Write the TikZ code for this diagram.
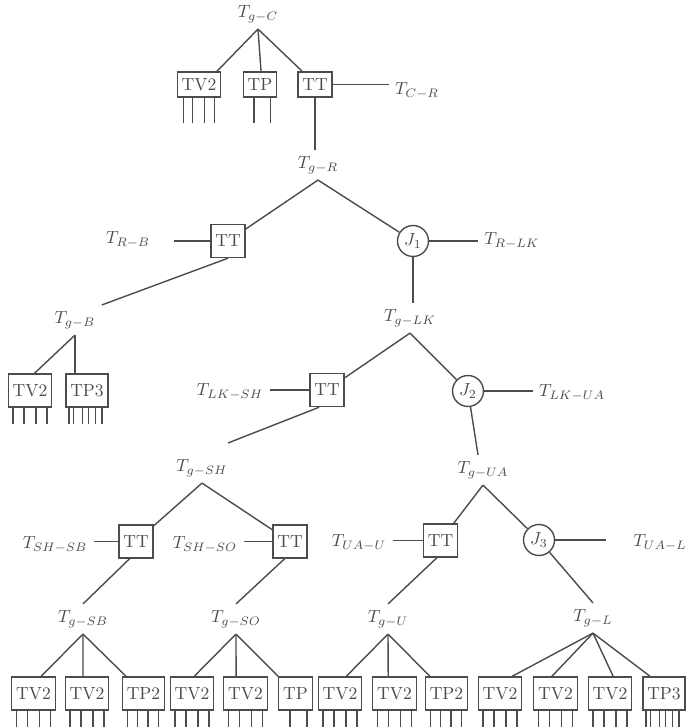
\documentclass[tikz,border=0pt]{standalone}
\usepackage{amsmath}
\usepackage{tikz}
\usetikzlibrary{calc}
\tikzset{unit/.style={draw,rectangle,minimum height=0.66cm,inner xsep=2.5pt,inner ysep=1pt},
  topunit/.style={unit,minimum height=0.5cm},
  junc/.style={draw,circle,inner sep=0pt,minimum size=0.62cm}}
% pins under a unit: node, fractions along the bottom, length
\newcommand{\legs}[3]{\foreach \f in {#2} \draw ($(#1.south west)!\f!(#1.south east)$) -- ++(0,#3);}

\begin{document}
\begin{tikzpicture}[x=0.02cm,y=-0.02cm,line width=0.8pt,color=black!70]
        \useasboundingbox (0,0) rectangle (689,727);
        % labels
        \node (gC) at (258,14) {$T_{g-C}$};
        \node (CR) at (417,91) {$T_{C-R}$};
        \node (gR) at (318,165) {$T_{g-R}$};
        \node (RB) at (128,240) {$T_{R-B}$};
        \node (RLK) at (512,241) {$T_{R-LK}$};
        \node (gB) at (75,320) {$T_{g-B}$};
        \node (gLK) at (410,318) {$T_{g-LK}$};
        \node (LKSH) at (230,392) {$T_{LK-SH}$};
        \node (LKUA) at (572,393) {$T_{LK-UA}$};
        \node (gSH) at (202,468) {$T_{g-SH}$};
        \node (gUA) at (483,470) {$T_{g-UA}$};
        \node (SHSB) at (55,545) {$T_{SH-SB}$};
        \node (SHSO) at (205,545) {$T_{SH-SO}$};
        \node (UAU) at (359,543) {$T_{UA-U}$};
        \node (UAL) at (660,543) {$T_{UA-L}$};
        \node (gSB) at (83,619) {$T_{g-SB}$};
        \node (gSO) at (236,619) {$T_{g-SO}$};
        \node (gU) at (388,619) {$T_{g-U}$};
        \node (gL) at (593,618) {$T_{g-L}$};
        % units and joints
        \node[topunit] (cTV) at (199,84.5) {TV2};
        \node[topunit] (cTP) at (260,84.5) {TP};
        \node[topunit] (cTT) at (315,84.5) {TT};
        \node[unit] (tt1) at (228,241) {TT};
        \node[junc] (J1) at (413,241) {$J_1$};
        \node[unit] (bTV) at (30,390.5) {TV2};
        \node[unit] (bTP) at (87,390.5) {TP3};
        \node[unit] (tt2) at (327,390) {TT};
        \node[junc] (J2) at (468,391) {$J_2$};
        \node[unit] (tt3) at (136,541.5) {TT};
        \node[unit] (tt4) at (290,541.5) {TT};
        \node[unit] (tt5) at (440.5,540.5) {TT};
        \node[junc] (J3) at (539,540) {$J_3$};
        \foreach \n/\x/\t in {b1/33.5/TV2,b2/87/TV2,b3/143.5/TP2,b4/192/TV2,b5/245.5/TV2,b6/295.5/TP,
            b7/340/TV2,b8/394.5/TV2,b9/446.5/TP2,b10/500/TV2,b11/555.5/TV2,b12/610/TV2,b13/664/TP3}
          \node[unit] (\n) at (\x,693.5) {\t};
        % pins
        \legs{cTV}{.15,.36,.62,.85}{25}
        \legs{cTP}{.33,.8}{25}
        \legs{bTV}{.12,.37,.63,.88}{16}
        \legs{bTP}{.09,.19,.4,.53,.7,.84}{16}
        \foreach \n in {b1,b2,b4,b5,b7,b8,b10,b11,b12} {\legs{\n}{.12,.37,.63,.88}{17}}
        \foreach \n in {b3,b9} {\legs{\n}{.13,.36,.6,.84}{17}}
        \legs{b6}{.34,.83}{17}
        \legs{b13}{.09,.19,.4,.53,.7,.84}{17}
        % top group
        \draw (gC.south) -- ($(cTV.north west)!.9!(cTV.north east)$);
        \draw (gC.south) -- ($(cTP.north west)!.53!(cTP.north east)$);
        \draw (gC.south) -- ($(cTT.north west)!.14!(cTT.north east)$);
        \draw (cTT.east) -- (cTT.east -| CR.west);
        \draw (cTT.south) -- (cTT.south |- gR.north);
        % R level
        \draw (gR.south) -- (tt1);
        \draw (gR.south) -- (J1);
        \draw[shorten >=10] (tt1.west) -- (tt1.west -| RB.east);
        \draw (J1) -- (J1 -| RLK.west);
        \draw (J1) -- (J1 |- gLK.north);
        \draw (tt1.south) -- (gB.north east);
        \draw (gB.south) -- ($(bTV.north west)!.6!(bTV.north east)$);
        \draw (gB.south) -- (gB.south |- bTP.north);
        % LK level
        \draw (gLK.south) -- (tt2);
        \draw (gLK.south) -- (J2);
        \draw (tt2.west) -- (tt2.west -| LKSH.east);
        \draw (J2) -- (J2 -| LKUA.west);
        \draw (J2) -- ($(gUA.north)+(-5,0)$);
        \draw ($(tt2.south west)!.28!(tt2.south east)$) -- ($(gSH.north east)+(-6,-10)$);
        % SH and UA level
        \draw (gSH.south) -- (tt3);
        \draw (gSH.south) -- (tt4);
        \draw (tt3.west) -- (tt3.west -| SHSB.east);
        \draw (tt4.west) -- (tt4.west -| SHSO.east);
        \draw (gUA.south) -- (tt5);
        \draw (gUA.south) -- (J3);
        \draw (tt5.west) -- (tt5.west -| UAU.east);
        \draw[shorten >=12] (J3) -- (J3 -| UAL.west);
        \draw ($(tt3.south west)!.32!(tt3.south east)$) -- (gSB.north);
        \draw ($(tt4.south west)!.35!(tt4.south east)$) -- (gSO.north);
        \draw ($(tt5.south west)!.4!(tt5.south east)$) -- (gU.north);
        \draw (J3) -- (gL.north);
        % bottom row
        \foreach \b/\f/\g in {b1/.67/gSB,b2/.41/gSB,b3/.1/gSB,b4/.55/gSO,b5/.29/gSO,b6/0/gSO,
            b7/.64/gU,b8/.36/gU,b9/.12/gU,b10/.77/gL,b11/.42/gL,b12/.57/gL,b13/.18/gL}
          \draw (\g.south) -- ($(\b.north west)!\f!(\b.north east)$);
\end{tikzpicture}
\end{document}
